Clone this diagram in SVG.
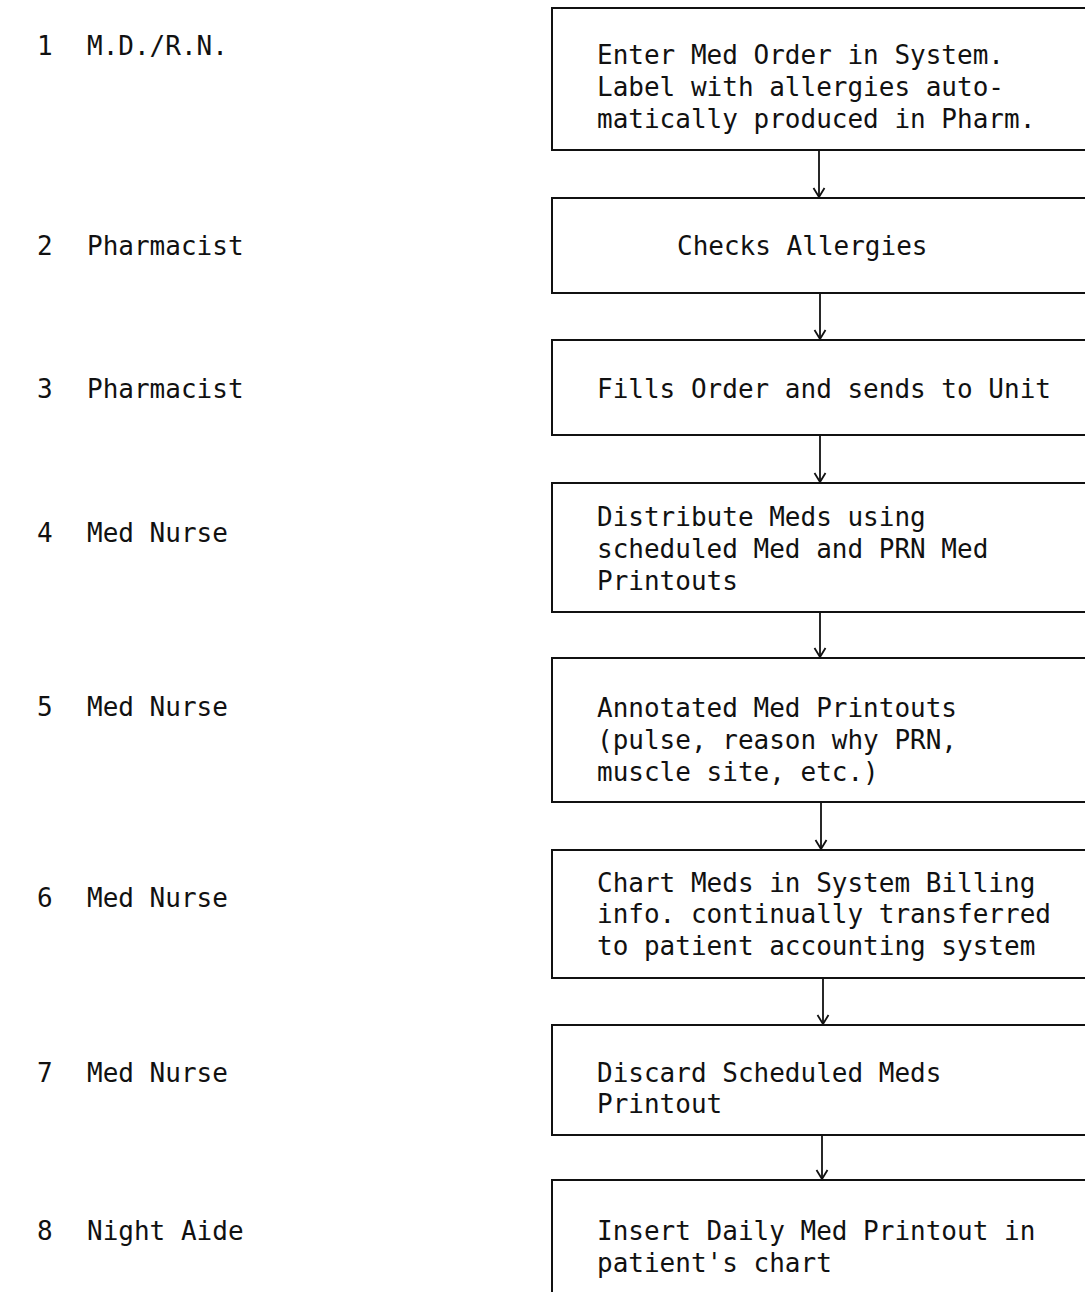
<svg xmlns="http://www.w3.org/2000/svg" width="1085" height="1292" viewBox="0 0 1085 1292">
<style>
text{font-family:"DejaVu Sans Mono","Liberation Mono",monospace;font-size:26px;fill:#111}
.box{fill:none;stroke:#111;stroke-width:2}
.conn{fill:none;stroke:#111;stroke-width:1.8}
.head{fill:none;stroke:#111;stroke-width:1.8}
</style>
<defs>
<marker id="arr" markerWidth="16" markerHeight="16" refX="12" refY="8" orient="auto" markerUnits="userSpaceOnUse">
<path d="M3,2.5 L12,8 L3,13.5" class="head"/>
</marker>
</defs>
<rect width="1085" height="1292" fill="#fff"/>
<g id="labels">
<text x="37" y="55">1</text><text x="87" y="55">M.D./R.N.</text>
<text x="37" y="255">2</text><text x="87" y="255">Pharmacist</text>
<text x="37" y="398">3</text><text x="87" y="398">Pharmacist</text>
<text x="37" y="542">4</text><text x="87" y="542">Med Nurse</text>
<text x="37" y="716">5</text><text x="87" y="716">Med Nurse</text>
<text x="37" y="907">6</text><text x="87" y="907">Med Nurse</text>
<text x="37" y="1082">7</text><text x="87" y="1082">Med Nurse</text>
<text x="37" y="1240">8</text><text x="87" y="1240">Night Aide</text>
</g>
<g id="node1">
<path class="box" d="M1085,8 H552 V150 H1085"/>
<text x="597" y="64">Enter Med Order in System.</text>
<text x="597" y="96">Label with allergies auto-</text>
<text x="597" y="128">matically produced in Pharm.</text>
</g>
<g id="node2">
<path class="box" d="M1085,198 H552 V293 H1085"/>
<text x="677" y="255">Checks Allergies</text>
</g>
<g id="node3">
<path class="box" d="M1085,340 H552 V435 H1085"/>
<text x="597" y="398">Fills Order and sends to Unit</text>
</g>
<g id="node4">
<path class="box" d="M1085,483 H552 V612 H1085"/>
<text x="597" y="526">Distribute Meds using</text>
<text x="597" y="558">scheduled Med and PRN Med</text>
<text x="597" y="590">Printouts</text>
</g>
<g id="node5">
<path class="box" d="M1085,658 H552 V802 H1085"/>
<text x="597" y="717">Annotated Med Printouts</text>
<text x="597" y="749">(pulse, reason why PRN,</text>
<text x="597" y="781">muscle site, etc.)</text>
</g>
<g id="node6">
<path class="box" d="M1085,850 H552 V978 H1085"/>
<text x="597" y="892">Chart Meds in System Billing</text>
<text x="597" y="923">info. continually transferred</text>
<text x="597" y="955">to patient accounting system</text>
</g>
<g id="node7">
<path class="box" d="M1085,1025 H552 V1135 H1085"/>
<text x="597" y="1082">Discard Scheduled Meds</text>
<text x="597" y="1113">Printout</text>
</g>
<g id="node8">
<path class="box" d="M1085,1180 H552 V1292"/>
<text x="597" y="1240">Insert Daily Med Printout in</text>
<text x="597" y="1272">patient's chart</text>
</g>
<g id="connectors">
<line class="conn" x1="819" y1="151" x2="819" y2="197" marker-end="url(#arr)"/>
<line class="conn" x1="820" y1="294" x2="820" y2="339" marker-end="url(#arr)"/>
<line class="conn" x1="820" y1="436" x2="820" y2="482" marker-end="url(#arr)"/>
<line class="conn" x1="820" y1="613" x2="820" y2="657" marker-end="url(#arr)"/>
<line class="conn" x1="821" y1="803" x2="821" y2="849" marker-end="url(#arr)"/>
<line class="conn" x1="823" y1="979" x2="823" y2="1024" marker-end="url(#arr)"/>
<line class="conn" x1="822" y1="1136" x2="822" y2="1179" marker-end="url(#arr)"/>
</g>
</svg>
